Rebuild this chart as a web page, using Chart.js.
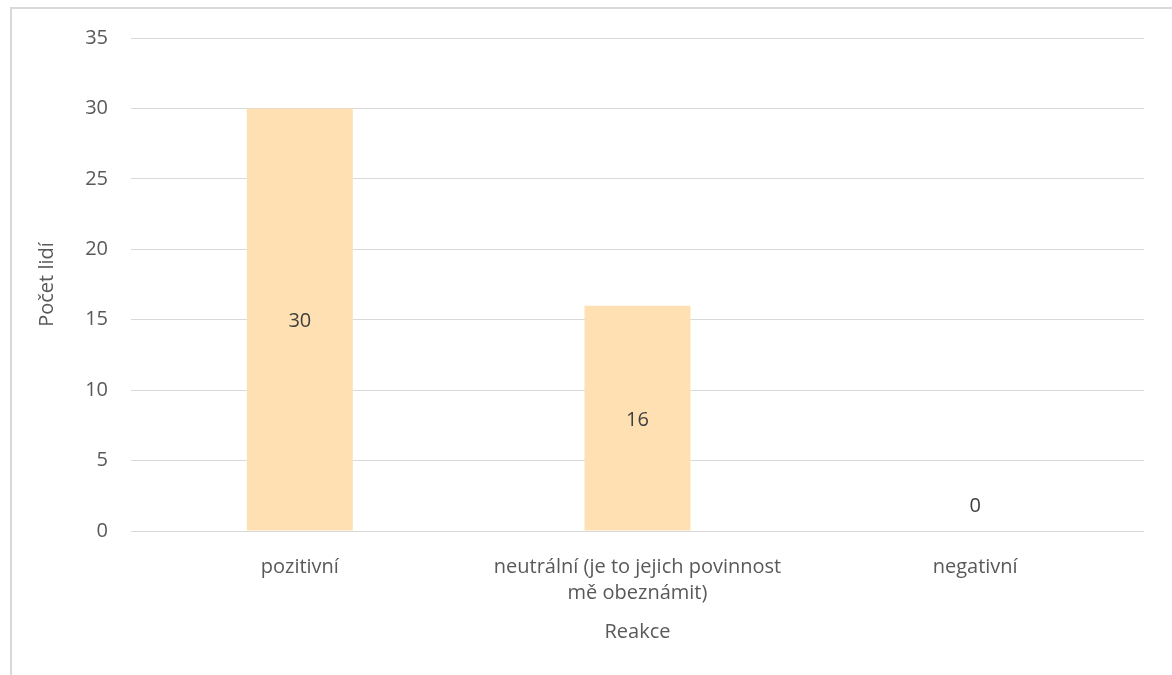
<!DOCTYPE html>
<html>
<head>
<meta charset="utf-8">
<script src="https://cdn.jsdelivr.net/npm/chart.js@4.4.1/dist/chart.umd.min.js"></script>
<style>
  html, body { margin: 0; padding: 0; background: #ffffff; }
  #wrap { position: relative; width: 1172px; height: 675px; overflow: hidden; }
  #frame { position: absolute; left: 10px; top: 7px; width: 1200px; height: 700px;
           border-top: 2px solid #d9d9d9; border-left: 2px solid #d9d9d9; box-sizing: border-box; }
  canvas { position: absolute; left: 0; top: 0; }
</style>
</head>
<body>
<div id="wrap">
  <div id="frame"></div>
  <canvas id="chart" width="1172" height="675"></canvas>
</div>
<script>
// Reakce respondentů a počty lidí
const categories = ['pozitivní', ['neutrální (je to jejich povinnost', 'mě obeznámit)'], 'negativní'];
const counts = [30, 16, 0];
const yTicks = [0, 5, 10, 15, 20, 25, 30, 35];

const textColor = '#595959';
const fontFamily = '"Open Sans", "Noto Sans", sans-serif';

// Popisky hodnot uprostřed sloupců
const valueLabels = {
  id: 'valueLabels',
  afterDatasetsDraw(chart) {
    const ctx = chart.ctx;
    const meta = chart.getDatasetMeta(0);
    ctx.save();
    ctx.font = '20px ' + fontFamily;
    ctx.fillStyle = '#404040';
    ctx.textAlign = 'center';
    ctx.textBaseline = 'middle';
    meta.data.forEach((bar, i) => {
      const v = chart.data.datasets[0].data[i];
      const y = v > 0 ? (bar.y + bar.base) / 2 + 2 : bar.base - 25;
      ctx.fillText(String(v), bar.x, y);
    });
    ctx.restore();
  }
};

new Chart(document.getElementById('chart'), {
  type: 'bar',
  data: {
    labels: categories,
    datasets: [{
      data: counts,
      backgroundColor: '#FFE0B2',
      borderWidth: 0,
      categoryPercentage: 1,
      barPercentage: 0.314
    }]
  },
  options: {
    responsive: false,
    animation: false,
    layout: { padding: { left: 0, top: 38, right: 28, bottom: 0 } },
    plugins: { legend: { display: false }, tooltip: { enabled: false } },
    scales: {
      x: {
        afterFit(scale) { scale.height = 144; },
        grid: { display: false },
        border: { display: false },
        ticks: {
          color: textColor,
          padding: 15,
          maxRotation: 0,
          font: { family: fontFamily, size: 20, lineHeight: 1.32 }
        },
        title: {
          display: true,
          text: 'Reakce',
          color: textColor,
          padding: { top: 0, bottom: 31 },
          font: { family: fontFamily, size: 20 }
        }
      },
      y: {
        min: 0,
        max: 35,
        afterFit(scale) { scale.width = 131; },
        afterBuildTicks(scale) { scale.ticks = yTicks.map(v => ({ value: v })); },
        grid: { color: '#d9d9d9', lineWidth: 1, drawTicks: false },
        border: { display: false },
        ticks: {
          color: textColor,
          padding: 23,
          font: { family: fontFamily, size: 20 }
        },
        title: {
          display: true,
          text: 'Počet lidí',
          color: textColor,
          padding: { top: 35, bottom: 0 },
          font: { family: fontFamily, size: 20 }
        }
      }
    }
  },
  plugins: [valueLabels]
});
</script>
</body>
</html>
